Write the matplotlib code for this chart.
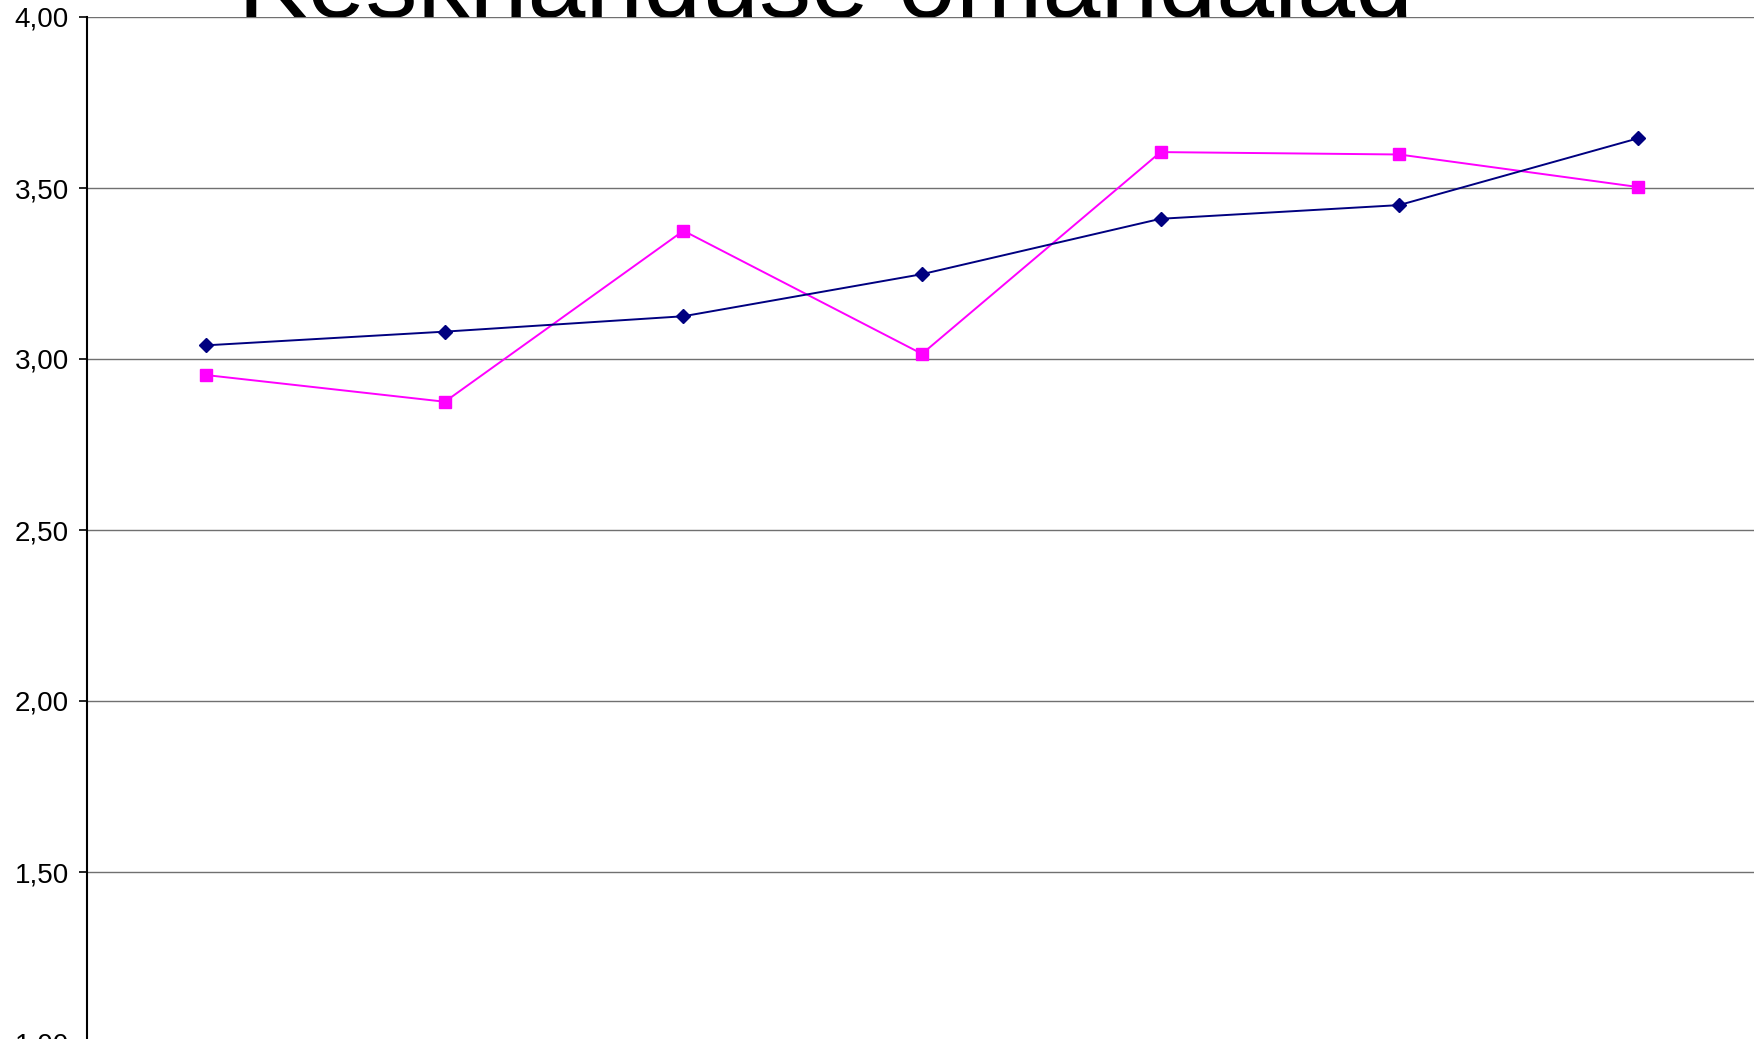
import numpy as np
import matplotlib
matplotlib.use("Agg")
import matplotlib.pyplot as plt

plt.rcParams["font.family"] = ["Liberation Sans", "DejaVu Sans"]

TITLE = "Keskhariduse omandajad"
# seven categories, no visible labels on the x axis
CATEGORIES = ["1", "2", "3", "4", "5", "6", "7"]
SERIES_BLUE = [3.04, 3.08, 3.125, 3.248, 3.41, 3.45, 3.645]
SERIES_PINK = [2.953, 2.875, 3.375, 3.015, 3.605, 3.598, 3.503]
Y_TICKS = [1.0, 1.5, 2.0, 2.5, 3.0, 3.5, 4.0]

fig = plt.figure(figsize=(17.54, 10.39), dpi=100)
# plot area runs a little past the bottom/right edges, as in the original
ax = fig.add_axes([87 / 1754, 1 - 1043 / 1039, 1670 / 1754, 1026 / 1039])
ax.set_facecolor("white")

x = np.arange(len(CATEGORIES)) + 0.5
ax.plot(x, SERIES_BLUE, color="#000080", lw=1.4, marker="D", ms=7.5,
        mfc="#000080", mec="#000080", zorder=4, clip_on=False)
ax.plot(x, SERIES_PINK, color="#FF00FF", lw=1.4, marker="s", ms=8,
        mfc="#FF00FF", mec="#FF00FF", zorder=3, clip_on=False)

ax.set_xlim(0, len(CATEGORIES))
ax.set_ylim(1.0, 4.0)
ax.set_yticks(Y_TICKS)
ax.set_yticklabels([f"{v:.2f}".replace(".", ",") for v in Y_TICKS], fontsize=20)
ax.set_xticks([])
ax.yaxis.grid(True, color="#707070", lw=1.0)
ax.set_axisbelow(True)
ax.tick_params(axis="y", direction="out", length=6, width=1.2, pad=7, colors="black")
for s in ("top", "right", "bottom"):
    ax.spines[s].set_visible(False)
ax.spines["left"].set_linewidth(1.5)
ax.spines["left"].set_color("black")

# big title, mostly cut off by the top edge and tucked behind the plot area
fig.text(825 / 1754, 1 - 17 / 1039, TITLE, fontsize=75, ha="center",
         va="baseline", zorder=-1)

fig.savefig("out.png", dpi=100)
